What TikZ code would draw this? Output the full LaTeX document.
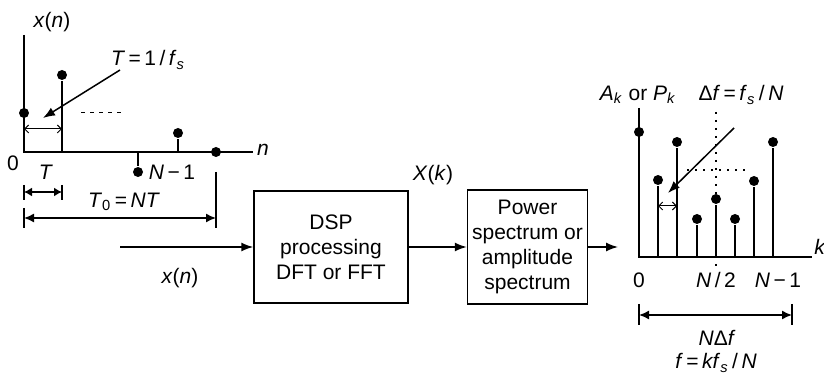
\documentclass[tikz,border=0pt]{standalone}
\usepackage{fontspec}
\setmainfont{Liberation Sans}
\usetikzlibrary{positioning, arrows.meta}

\newcommand{\vr}[1]{\textit{#1}}
\newcommand{\sub}[1]{\textsubscript{\textit{#1}}}

\begin{document}
\begin{tikzpicture}[x=0.5pt, y=-0.5pt, font=\fontsize{10.5}{12.5}\selectfont,
    >={Latex[length=6pt,width=4.5pt]}, line width=0.75pt,
    dot/.style={circle, fill, inner sep=0pt, minimum size=5pt},
    blk/.style={draw, align=center, inner sep=0pt},
    dim/.style={{Latex[length=5pt,width=4.5pt]}-{Latex[length=5pt,width=4.5pt]}},
    gap/.style={{Straight Barb[length=2pt,width=4pt]}-{Straight Barb[length=2pt,width=4pt]}, line width=0.5pt},
    grid/.style={line width=0.6pt, dash pattern=on 1.2pt off 2.8pt}]
  \useasboundingbox (0,0) rectangle (824,373);

  % sampled signal
  \coordinate (o1) at (24,152);
  \coordinate (ytop1) at (24,35);
  \coordinate (xend1) at (253,152);
  \draw (ytop1) -- (o1) -- (xend1);
  \foreach \px/\py [count=\i] in {24/113, 62/75, 138/172, 178/133, 216/152} {
    \coordinate (b\i) at (\px,152);
    \node[dot] (s\i) at (\px,\py) {};
    \draw (b\i) -- (s\i);
  }
  \draw[line width=0.5pt, dash pattern=on 2pt off 2.5pt] (81,113) -- (123,113);
  \coordinate (g1) at (24,129);
  \coordinate (g2) at (62,129);
  \draw[gap] (g1) -- (g2);
  \node (xn) at (52,22) {\vr{x}(\vr{n})};
  \node (tlab) at (148,60) {\vr{T}\,=\,1\,/\,\vr{f}\sub{s}};
  \coordinate (ta) at (120,70);
  \coordinate (tb) at (43,118);
  \draw[->] (ta) -- (tb);
  \node (zero1) at (13,163) {0};
  \node (nn) at (263,150) {\vr{n}};
  \node (nm1) at (172,172) {\vr{N}\,−\,1};
  \node (tt) at (46,172) {\vr{T}};
  \node (t0) at (124,202) {\vr{T}\textsubscript{0}\,=\,\vr{NT}};
  \draw (24,185) -- (24,200);
  \draw (24,208) -- (24,228);
  \draw (62,185) -- (62,200);
  \draw (216,172) -- (216,228);
  \draw[{Latex[length=4pt,width=4.5pt]}-{Latex[length=4pt,width=4.5pt]}] (24,192) -- (62,192);
  \draw[dim] (24,218) -- (216,218);

  % processing chain
  \node[blk, minimum width=77pt, minimum height=56pt] (dsp) at (331,247)
    {DSP\\processing\\DFT or FFT};
  \node[blk, minimum width=60pt, minimum height=57pt, right=29pt of dsp] (pow)
    {Power\\spectrum or\\amplitude\\spectrum};
  \coordinate (in) at (120,247);
  \coordinate (out) at (618,247);
  \draw[->] (in) -- (dsp.west);
  \draw[->] (dsp.east) -- (pow.west);
  \draw[->] (pow.east) -- (out);
  \node (xin) at (180,278) {\vr{x}(\vr{n})};
  \node (xk) at (433,175) {\vr{X}(\vr{k})};

  % spectrum
  \coordinate (o2) at (639,257);
  \coordinate (ytop2) at (639,108);
  \coordinate (xend2) at (812,257);
  \draw[grid] (716,112) -- (716,266);
  \draw[grid] (687,170) -- (747,170);
  \draw (ytop2) -- (o2) -- (xend2);
  \foreach \px/\py [count=\k from 0] in {639/132, 658/180, 677/142, 697/219,
      716/199, 735/219, 754/181, 773/142} {
    \coordinate (c\k) at (\px,257);
    \node[dot] (d\k) at (\px,\py) {};
    \draw (c\k) -- (d\k);
  }
  \coordinate (h1) at (658,206);
  \coordinate (h2) at (677,206);
  \draw[gap] (h1) -- (h2);
  \coordinate (fa) at (734,128);
  \coordinate (fb) at (668,193);
  \draw[->] (fa) -- (fb);
  \node (ak) at (638,95) {\vr{A}\sub{k} or \vr{P}\sub{k}};
  \node (df) at (741,95) {Δ\vr{f}\,=\,\vr{f}\sub{s}\,/\,\vr{N}};
  \node (kk) at (820,247) {\vr{k}};
  \node (zero2) at (639,280) {0};
  \node (nh) at (716,280) {\vr{N}\,/\,2};
  \node (nm2) at (778,280) {\vr{N}\,−\,1};
  \draw (639,304) -- (639,325);
  \draw (792,304) -- (792,325);
  \draw[dim] (639,315) -- (792,315);
  \node (ndf) at (717,338) {\vr{N}Δ\vr{f}};
  \node (fk) at (716,363) {\vr{f}\,=\,\vr{kf}\sub{s}\,/\,\vr{N}};
\end{tikzpicture}
\end{document}
